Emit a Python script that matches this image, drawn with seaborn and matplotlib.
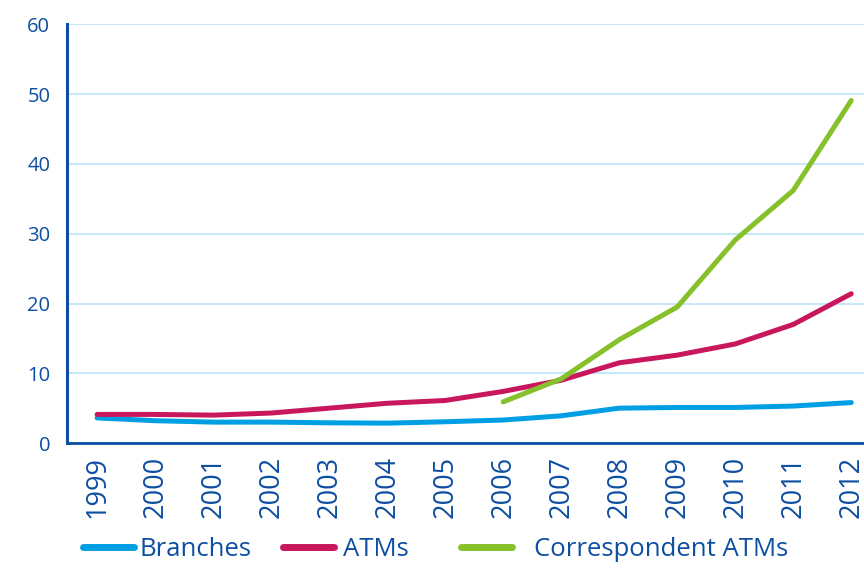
import numpy as np
import pandas as pd
import matplotlib
matplotlib.use("Agg")
import matplotlib.pyplot as plt
import seaborn as sns
from matplotlib.lines import Line2D

years = list(range(1999, 2013))
branches = [3.6, 3.2, 3.0, 3.0, 2.9, 2.85, 3.05, 3.3, 3.9, 5.0, 5.1, 5.1, 5.3, 5.8]
atms = [4.1, 4.1, 4.0, 4.3, 5.0, 5.7, 6.1, 7.4, 9.0, 11.5, 12.6, 14.2, 17.0, 21.4]
corr_years = list(range(2006, 2013))
correspondent_atms = [5.9, 9.2, 14.8, 19.5, 29.1, 36.2, 49.1]

series_names = ["Branches", "ATMs", "Correspondent ATMs"]
colors = ["#009FE3", "#C8175D", "#86C12C"]
y_ticks = [0, 10, 20, 30, 40, 50, 60]

TEXT = "#0D4EA2"
GRID = "#BFE7F8"

sns.set_style("white")
plt.rcParams["font.family"] = ["Open Sans", "DejaVu Sans"]

df = pd.concat([
    pd.DataFrame({"year": years, "value": branches, "series": series_names[0]}),
    pd.DataFrame({"year": years, "value": atms, "series": series_names[1]}),
    pd.DataFrame({"year": corr_years, "value": correspondent_atms, "series": series_names[2]}),
])

fig = plt.figure(figsize=(8.64, 5.68), dpi=100)
ax = fig.add_axes([0.0775, 0.22, 0.9225, 0.737])

sns.lineplot(data=df, x="year", y="value", hue="series", hue_order=series_names,
             palette=colors, linewidth=3.6, legend=False, ax=ax,
             solid_capstyle="round", solid_joinstyle="round")

ax.set_xlim(1998.48, 2012.22)
ax.set_ylim(0, 60)
ax.set_yticks(y_ticks)
ax.set_xticks(years)
ax.set_xticklabels([str(y) for y in years], rotation=90, fontsize=19.5, color=TEXT)
ax.set_yticklabels([str(v) for v in y_ticks], fontsize=14.5, color=TEXT)
ax.tick_params(axis="x", length=0, pad=9)
ax.tick_params(axis="y", length=0, pad=12)
ax.set_xlabel("")
ax.set_ylabel("")

ax.yaxis.grid(True, color=GRID, linewidth=1.3)
ax.xaxis.grid(False)
ax.set_axisbelow(True)
for side in ["top", "right"]:
    ax.spines[side].set_visible(False)
ax.spines["left"].set_color(TEXT)
ax.spines["left"].set_linewidth(2.2)
ax.spines["bottom"].set_color(TEXT)
ax.spines["bottom"].set_linewidth(2.0)

# one legend entry per series, each placed along the bottom edge
legend_x = [83 / 864, 283 / 864, 461 / 864]
text_pads = [0.2, 0.35, 0.85]
for name, color, lx, tp in zip(series_names, colors, legend_x, text_pads):
    h = Line2D([0], [0], color=color, linewidth=5, solid_capstyle="round")
    leg = fig.legend([h], [name], frameon=False, loc="center left",
                     bbox_to_anchor=(lx, 0.032), fontsize=18.5,
                     handlelength=2.0, handletextpad=tp, borderpad=0,
                     borderaxespad=0)
    for t in leg.get_texts():
        t.set_color(TEXT)

fig.savefig("out.png", dpi=100)
